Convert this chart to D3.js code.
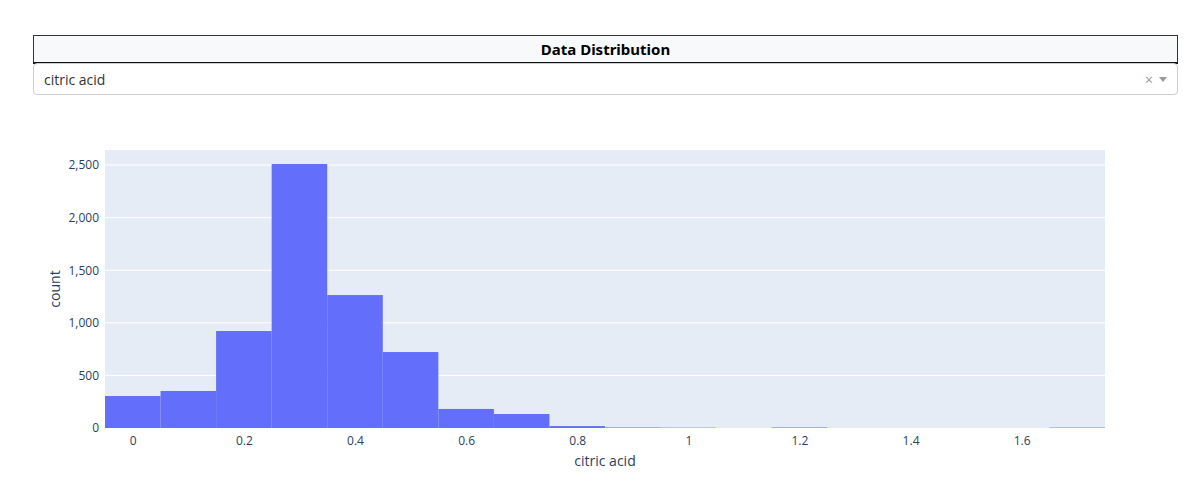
<!DOCTYPE html>
<html><head><meta charset="utf-8">
<script src="https://cdn.jsdelivr.net/npm/d3@7"></script>
<style>
body{margin:0;background:#fff;font-family:"Open Sans",sans-serif;}
#hdr{position:absolute;left:33px;top:35px;width:1143px;height:26px;border:1px solid #333;border-bottom:2px solid #111;background:#f8f9fa;text-align:center;font-weight:bold;font-size:15px;line-height:26px;color:#000;font-family:"Noto Sans",sans-serif;}
#dd{position:absolute;left:33px;top:63px;width:1143px;height:32px;border:1px solid #ccc;border-radius:4px;box-sizing:border-box;width:1145px;font-size:14px;line-height:32px;padding-left:10px;color:#333;}
#dd .x{position:absolute;right:24px;color:#999;font-size:14px;}
#dd .c{position:absolute;right:10px;top:13px;width:0;height:0;border-left:4px solid transparent;border-right:4px solid transparent;border-top:5px solid #999;}
svg{position:absolute;left:0;top:0;}
</style></head><body>
<div id="hdr">Data Distribution</div>
<div id="dd">citric acid<span class="x">×</span><span class="c"></span></div>
<svg id="s" width="1198" height="485"></svg>
<script>
const binStarts=[-0.05,0.05,0.15,0.25,0.35,0.45,0.55,0.65,0.75,0.85,0.95,1.05,1.15,1.25,1.35,1.45,1.55,1.65];
const counts=[304,352,922,2510,1264,722,181,133,18,5,3,0,5,0,0,0,0,4];
const binWidth=0.1;
const xTicks=[0,0.2,0.4,0.6,0.8,1,1.2,1.4,1.6];
const yTicks=[0,500,1000,1500,2000,2500];
const L=105,R=1105,T=150,B=428;
const svg=d3.select("#s");
const x=d3.scaleLinear().domain([-0.05,1.75]).range([L,R]);
const y=d3.scaleLinear().domain([0,2643]).range([B,T]);
svg.append("rect").attr("x",L).attr("y",T).attr("width",R-L).attr("height",B-T).attr("fill","#e5ecf6");
svg.append("g").selectAll("line").data(yTicks.slice(1)).join("line").attr("x1",L).attr("x2",R).attr("y1",d=>y(d)).attr("y2",d=>y(d)).attr("stroke","#fff");
svg.append("g").selectAll("rect").data(binStarts).join("rect")
 .attr("x",d=>x(d)).attr("width",d=>x(d+binWidth)-x(d))
 .attr("y",(d,i)=>y(counts[i])).attr("height",(d,i)=>B-y(counts[i])).attr("fill","#636efa");
const ya=svg.append("g").attr("transform",`translate(${L},0)`).call(d3.axisLeft(y).tickValues(yTicks).tickSize(0).tickPadding(6));
const xa=svg.append("g").attr("transform",`translate(0,${B})`).call(d3.axisBottom(x).tickValues(xTicks).tickSize(0).tickPadding(8).tickFormat(d3.format("")));
[ya,xa].forEach(a=>{a.select(".domain").remove();a.selectAll("text").attr("font-size",12).attr("fill","#2a3f5f").attr("font-family","'Open Sans',sans-serif");});
svg.append("text").attr("x",(L+R)/2).attr("y",466).attr("text-anchor","middle").attr("font-size",14).attr("fill","#2a3f5f").text("citric acid");
svg.append("text").attr("transform",`translate(60,${(T+B)/2}) rotate(-90)`).attr("text-anchor","middle").attr("font-size",14).attr("fill","#2a3f5f").text("count");
</script></body></html>
